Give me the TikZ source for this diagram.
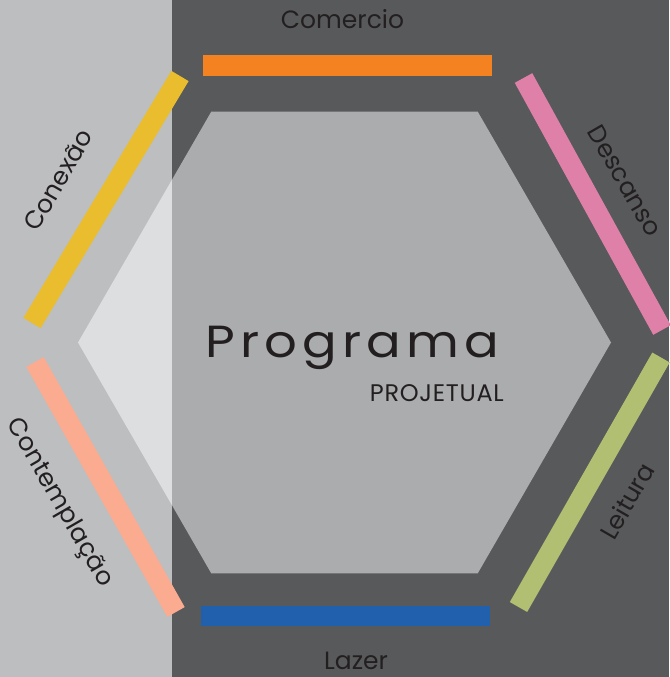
\documentclass[tikz,border=0pt]{standalone}
\usepackage{fontspec}
\setmainfont{Poppins}
\newfontfamily\titulofont[LetterSpace=10]{Poppins}
\newfontfamily\subtitulofont[LetterSpace=3]{Poppins}
\usepackage{xcolor}
\usepackage{tikz}
\usetikzlibrary{positioning,shapes.geometric}
\definecolor{fundoclaro}{HTML}{BCBEC0}
\definecolor{fundoescuro}{HTML}{58595B}
\definecolor{texto}{HTML}{231F20}
\definecolor{laranja}{HTML}{F58220}
\definecolor{rosa}{HTML}{DF80A9}
\definecolor{verde}{HTML}{B0BF72}
\definecolor{azul}{HTML}{2160AD}
\definecolor{salmao}{HTML}{FBAB8F}
\definecolor{amarelo}{HTML}{E9BD2D}
\tikzset{
  hexagono/.style = {regular polygon, regular polygon sides=6,
    minimum size=533pt, inner sep=0pt,
    fill=white, fill opacity=0.5},% hexagono central
  barra/.style = {line width=20pt, #1},% barra colorida
  rotulo/.style = {text=texto, inner sep=0pt, font=\fontsize{25}{25}\selectfont},% nome da barra
  titulo/.style = {text=texto, inner sep=0pt, xscale=1.14,
    font=\titulofont\fontsize{45}{45}\selectfont},
  subtitulo/.style = {text=texto, inner sep=0pt,
    font=\subtitulofont\fontsize{24}{24}\selectfont}
}
\begin{document}
\begin{tikzpicture}[x=1pt,y=-1pt]
\useasboundingbox (0,0) rectangle (669,677);
\fill[fundoclaro] (0,0) rectangle (172,677);
\fill[fundoescuro] (172,0) rectangle (669,677);
\node [hexagono] (hex) at (344.5,342.5) {};
% barras
\coordinate (lar1) at (203,65.5);  \coordinate (lar2) at (492,65.5);
\coordinate (ros1) at (523.5,78);  \coordinate (ros2) at (662,330);
\coordinate (ver1) at (661,357.5); \coordinate (ver2) at (518.5,607);
\coordinate (azu1) at (490,615.5); \coordinate (azu2) at (201,615.5);
\coordinate (sal1) at (176,612);   \coordinate (sal2) at (35,362);
\coordinate (ama1) at (32,323);    \coordinate (ama2) at (180,76);
\draw [barra=laranja] (lar1) -- (lar2);
\draw [barra=rosa] (ros1) -- (ros2);
\draw [barra=verde] (ver1) -- (ver2);
\draw [barra=azul] (azu1) -- (azu2);
\draw [barra=salmao] (sal1) -- (sal2);
\draw [barra=amarelo] (ama1) -- (ama2);
% rotulos
\node [rotulo] (comercio) at (342.5,19.5) {Comercio};
\node [rotulo, rotate=-60] (descanso) at (625,181) {Descanso};
\node [rotulo, rotate=60] (leitura) at (627,501) {Leitura};
\node [rotulo] (lazer) at (356,661) {Lazer};
\node [rotulo, rotate=-60] (contemplacao) at (59,503) {Contemplação};
\node [rotulo, rotate=60] (conexao) at (58,180) {Conexão};
\node [titulo, anchor=base west] (programa) at (205,357) {Programa};
\node [subtitulo, anchor=base east] (projetual) at (504,401.5) {PROJETUAL};
\end{tikzpicture}
\end{document}
